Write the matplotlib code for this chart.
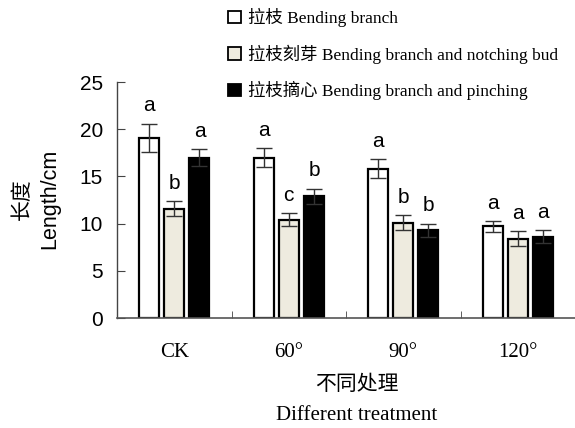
import matplotlib
matplotlib.use('Agg')
import matplotlib.pyplot as plt
import numpy as np
from matplotlib.patches import Patch

# 数据
categories = ['CK', '60°', '90°', '120°']
bend = [19.1, 17.0, 15.8, 9.7]
bend_err = [1.5, 1.0, 1.0, 0.6]
notch = [11.6, 10.4, 10.1, 8.4]
notch_err = [0.8, 0.7, 0.8, 0.8]
pinch = [17.0, 12.9, 9.3, 8.6]
pinch_err = [0.9, 0.8, 0.7, 0.7]
bend_sig = ['a', 'a', 'a', 'a']
notch_sig = ['b', 'c', 'b', 'a']
pinch_sig = ['a', 'b', 'b', 'a']

labels = ['拉枝 Bending branch',
          '拉枝刻芽 Bending branch and notching bud',
          '拉枝摘心 Bending branch and pinching']
colors = ['white', '#eeebdf', 'black']

serif = ['Liberation Serif', 'Noto Sans CJK SC']
sans = ['Liberation Sans', 'DejaVu Sans']

fig = plt.figure(figsize=(5.75, 4.28), dpi=100)
ax = fig.add_axes([0.2035, 0.257, 0.7965, 0.5514])

x = np.arange(len(categories))
width = 0.175
offsets = [-0.22, 0.0, 0.22]
series = [(bend, bend_err, bend_sig), (notch, notch_err, notch_sig), (pinch, pinch_err, pinch_sig)]

for (vals, errs, sig), off, c in zip(series, offsets, colors):
    ax.bar(x + off, vals, width, color=c, edgecolor='black', linewidth=1.6, zorder=2)
    ax.errorbar(x + off, vals, yerr=errs, fmt='none', ecolor='#333333',
                elinewidth=1.0, capsize=6, capthick=1.0, zorder=3)
    for xi, v, e, s in zip(x + off, vals, errs, sig):
        ax.text(xi, v + e + 1.3, s, ha='center', va='baseline',
                fontsize=15, family=sans)

ax.set_xlim(-0.5, 3.5)
ax.set_ylim(0, 25)
ax.set_yticks([0, 5, 10, 15, 20, 25])
ax.set_xticks(x)
ax.set_xticklabels(categories, family=serif, fontsize=15)
ax.set_xticks([0.5, 1.5, 2.5], minor=True)
ax.tick_params(axis='x', which='major', length=0, pad=18)
ax.tick_params(axis='x', which='minor', direction='in', length=5, color='#444444')
ax.tick_params(axis='y', direction='in', length=6, pad=10, labelsize=15, color='#444444')
for t in ax.get_yticklabels():
    t.set_family(sans)

for s in ['top', 'right']:
    ax.spines[s].set_visible(False)
ax.spines['left'].set_color('#444444')
ax.spines['bottom'].set_color('#555555')
ax.spines['left'].set_linewidth(1.0)
ax.spines['bottom'].set_linewidth(1.2)

# 坐标轴标题
fig.text(0.04, 0.535, '长度', rotation=90, ha='center', va='center',
         family=serif, fontsize=15)
fig.text(0.087, 0.535, 'Length/cm', rotation=90, ha='center', va='center',
         family=sans, fontsize=15.5)
fig.text(0.62, 0.1, '不同处理', ha='center', va='center', family=serif, fontsize=15)
fig.text(0.62, 0.03, 'Different treatment', ha='center', va='center',
         family=serif, fontsize=15)

# 图例
handles = [Patch(facecolor=c, edgecolor='black', linewidth=1.3) for c in colors]
fig.legend(handles, labels, loc='upper left', bbox_to_anchor=(0.385, 0.998),
           frameon=False, prop={'family': serif, 'size': 12.5},
           handlelength=0.75, handleheight=0.75, handletextpad=0.4,
           labelspacing=1.0, borderaxespad=0)

plt.savefig('out.png', dpi=100)
